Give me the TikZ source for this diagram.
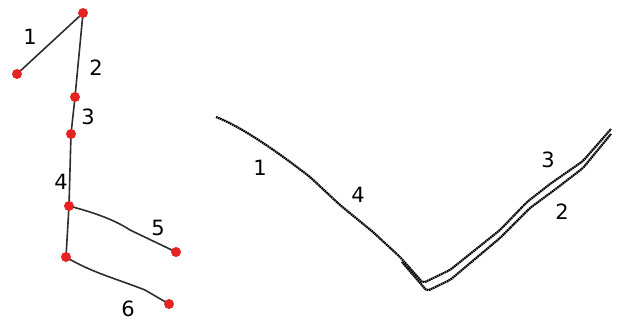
\documentclass[tikz,border=0pt]{standalone}
\usepackage{fontspec}
\setmainfont{DejaVu Sans}
\begin{document}
\begin{tikzpicture}[x=1pt,y=-1pt,
  joint/.style={circle,fill=jointred,inner sep=0pt,minimum size=10pt},
  bone/.style={draw=bonegray,line width=1.6pt},
  lab/.style={font=\fontsize{21}{21}\selectfont,inner sep=0pt},
  trace/.style={draw=black,line width=2.2pt,dash pattern=on 1.6pt off 0.6pt,line join=round,rounded corners=2pt}]
\definecolor{jointred}{RGB}{230,35,35}
\definecolor{bonegray}{RGB}{45,45,45}
\useasboundingbox (0,0) rectangle (618,322);
% skeleton joints (coordinates)
\coordinate (j0) at (17,74);
\coordinate (j1) at (83,13);
\coordinate (j2) at (75,97);
\coordinate (j3) at (71,134);
\coordinate (j4) at (69,206);
\coordinate (j5) at (66,257);
\coordinate (e5) at (176,252);
\coordinate (e6) at (169,304);
% bones
\draw[bone] (j0) -- (j1);
\draw[bone] (j1) -- (j2);
\draw[bone] (j2) -- (j3);
\draw[bone] (j3) -- (j4);
\draw[bone] (j4) .. controls (100,214) and (118,222) .. (130,230) -- (e5);
\draw[bone] (j4) -- (j5);
\draw[bone] (j5) .. controls (90,272) and (120,280) .. (145,290) -- (e6);
% joints on top
\foreach \n in {j0,j1,j2,j3,j4,j5,e5,e6} \node[joint] (n\n) at (\n) {};
% skeleton labels
\node[lab] (l1) at (30,37) {1};
\node[lab] (l2) at (96,68) {2};
\node[lab] (l3) at (88,117) {3};
\node[lab] (l4) at (61,182) {4};
\node[lab] (l5) at (158,228) {5};
\node[lab] (l6) at (128,309) {6};
% trace curves
\coordinate (ts) at (216,117);
\coordinate (va) at (423,283);
\coordinate (vb) at (427,291);
\coordinate (ta) at (611,129);
\coordinate (tb) at (611,134);
\draw[trace] (ts) .. controls (240,126) and (275,150) .. (310,177)
  -- (340,205) -- (373,232) -- (400,257) -- (va)
  -- (450,270) -- (500,230) -- (527,202) -- (550,184) -- (583,161) -- (ta);
\draw[trace] (402,262) -- (vb)
  -- (450,280) -- (500,238) -- (530,208) -- (557,188) -- (583,168) -- (tb);
% trace labels
\node[lab] (r1) at (260,168) {1};
\node[lab] (r4) at (358,195) {4};
\node[lab] (r3) at (548,160) {3};
\node[lab] (r2) at (562,212) {2};
\end{tikzpicture}
\end{document}
